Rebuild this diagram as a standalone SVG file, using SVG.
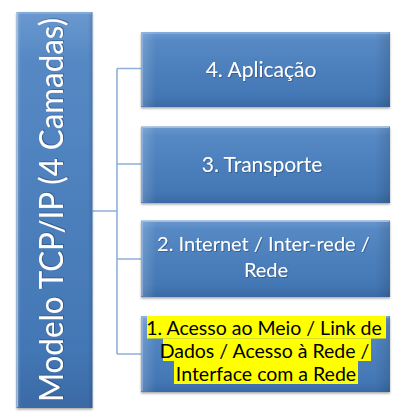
<svg xmlns="http://www.w3.org/2000/svg" width="408" height="420" viewBox="0 0 408 420">
  <defs>
    <linearGradient id="boxFill" x1="0" y1="0" x2="0" y2="1">
      <stop offset="0" stop-color="#6a98cf"/>
      <stop offset="0.12" stop-color="#5689c4"/>
      <stop offset="0.85" stop-color="#4377b5"/>
      <stop offset="1" stop-color="#3a6aa4"/>
    </linearGradient>
    <linearGradient id="sideFill" x1="0" y1="0" x2="1" y2="0">
      <stop offset="0" stop-color="#ffffff" stop-opacity="0.18"/>
      <stop offset="0.06" stop-color="#ffffff" stop-opacity="0"/>
      <stop offset="0.94" stop-color="#000000" stop-opacity="0"/>
      <stop offset="1" stop-color="#000000" stop-opacity="0.12"/>
    </linearGradient>
    <filter id="shadow" x="-10%" y="-10%" width="120%" height="130%">
      <feDropShadow dx="0" dy="1.5" stdDeviation="1.2" flood-color="#000000" flood-opacity="0.35"/>
    </filter>
    <filter id="txtShadow" x="-10%" y="-30%" width="120%" height="160%">
      <feDropShadow dx="0.8" dy="0.8" stdDeviation="0.6" flood-color="#1f3a5f" flood-opacity="0.6"/>
    </filter>
  </defs>
  <style>
    .box { fill: url(#boxFill); filter: url(#shadow); }
    .bevel { fill: url(#sideFill); }
    .hl { fill: none; stroke: #9cbde6; stroke-width: 1.2; }
    .lbl { font-family: Lato, "Open Sans", sans-serif; fill: #ffffff; text-anchor: middle; filter: url(#txtShadow); }
    .dark { font-family: Lato, "Open Sans", sans-serif; fill: #000000; text-anchor: middle; }
    .mark { fill: #ffff00; }
    .conn { fill: none; stroke: #8fb0d9; stroke-width: 1.6; }
  </style>
  <rect width="408" height="420" fill="#ffffff"/>

  <g id="connectors">
    <path class="conn" d="M92.5 211 H117 M117 68.5 V354 M117 68.5 H141 M117 164 H141 M117 259 H141 M117 354 H141"/>
  </g>

  <g id="root">
    <rect class="box" x="16.5" y="12" width="76" height="396"/>
    <rect class="bevel" x="16.5" y="12" width="76" height="396"/>
    <path class="hl" d="M17.5 407 V13 H91.5"/>
    <text class="lbl" transform="translate(63 210) rotate(-90)" font-size="32" textLength="384" lengthAdjust="spacingAndGlyphs">Modelo TCP/IP (4 Camadas)</text>
  </g>

  <g id="layer4">
    <rect class="box" x="141" y="32" width="249" height="75"/>
    <rect class="bevel" x="141" y="32" width="249" height="75"/>
    <path class="hl" d="M142 106 V33 H389"/>
    <text class="lbl" x="261" y="77" font-size="21">4. Aplicação</text>
  </g>

  <g id="layer3">
    <rect class="box" x="141" y="126.5" width="249" height="76.5"/>
    <rect class="bevel" x="141" y="126.5" width="249" height="76.5"/>
    <path class="hl" d="M142 202 V127.5 H389"/>
    <text class="lbl" x="262" y="171.5" font-size="21">3. Transporte</text>
  </g>

  <g id="layer2">
    <rect class="box" x="141" y="220.5" width="249" height="76.5"/>
    <rect class="bevel" x="141" y="220.5" width="249" height="76.5"/>
    <path class="hl" d="M142 296 V221.5 H389"/>
    <text class="lbl" font-size="20">
      <tspan x="266" y="251">2. Internet / Inter-rede /</tspan>
      <tspan x="266" y="277">Rede</tspan>
    </text>
  </g>

  <g id="layer1">
    <rect class="box" x="141" y="316" width="249" height="76"/>
    <rect class="bevel" x="141" y="316" width="249" height="76"/>
    <path class="hl" d="M142 391 V317 H389"/>
    <rect class="mark" x="147" y="316" width="239" height="22.5"/>
    <rect class="mark" x="163" y="338.5" width="208" height="22.5"/>
    <rect class="mark" x="174" y="361" width="184" height="23"/>
    <text class="dark" font-size="19.5">
      <tspan x="266.5" y="335">1. Acesso ao Meio / Link de</tspan>
      <tspan x="267" y="358">Dados / Acesso à Rede /</tspan>
      <tspan x="266" y="381">Interface com a Rede</tspan>
    </text>
  </g>
</svg>
